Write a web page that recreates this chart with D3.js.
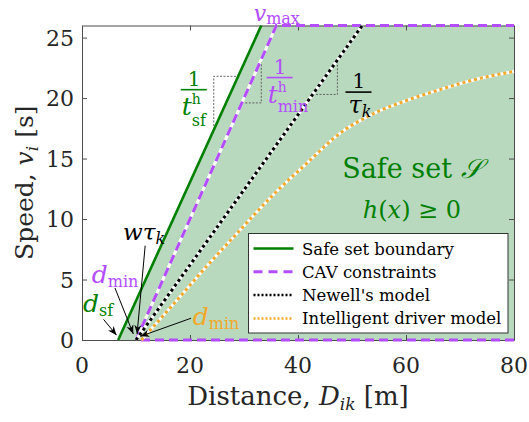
<!DOCTYPE html>
<html>
<head>
<meta charset="utf-8">
<script src="https://cdn.jsdelivr.net/npm/d3@7"></script>
<style>
    body { margin: 0; background: #fff; }
</style>
</head>
<body>
<div id="plot"></div>
<script>
// Tick labels
const distanceTicks = [0, 20, 40, 60, 80];
const speedTicks = [0, 5, 10, 15, 20, 25];

// Series, [distance m, speed m/s]
const safeBoundary = [[6.7, 0], [33.2, 26]];
const safeRegion = [[6.7, 0], [33.2, 26], [80, 26], [80, 0]];
const cavSlope = [[10, 0], [36, 26]];
const cavLimits = [[80, 0], [10, 0], [36, 26], [80, 26]];
const newellModel = [[10, 0], [51.9, 26]];
const idmDistance = [11, 17, 23.1, 29.3, 35.4, 41.6, 47.8, 53.9, 60.1, 66.3, 72.5, 80];
const idmSpeed = [0, 3.0, 6.1, 9.1, 12.0, 14.6, 17.1, 18.7, 19.8, 20.7, 21.5, 22.2];

// Slope helper triangles
const greenTriangle = [[24.4, 17.4], [24.4, 21.8], [28.9, 21.8]];
const purpleTriangle = [[29.6, 19.6], [33.2, 19.6], [33.2, 23.2]];
const blackTriangle = [[42.7, 20.3], [47.3, 20.3], [47.3, 23.2]];

const legendNames = ["Safe set boundary", "CAV constraints", "Newell's model", "Intelligent driver model"];

const green = "#008000", purple = "#b34dff", orange = "#f2a82a", shade = "#b9d9bf";
const serif = "DejaVu Serif, serif";

const width = 529, height = 422;
const margin = { top: 25.5, right: 15, bottom: 82, left: 82 };

const svg = d3.select("#plot")
    .append("svg")
    .attr("width", width)
    .attr("height", height)
    .style("font-family", serif);

const x = d3.scaleLinear().domain([0, 80]).range([margin.left, width - margin.right]);
const y = d3.scaleLinear().domain([0, 26]).range([height - margin.bottom, margin.top]);

const line = d3.line().x(d => x(d[0])).y(d => y(d[1]));

// Safe set shading
svg.append("path")
    .attr("d", line(safeRegion) + "Z")
    .attr("fill", shade);

// Axes box with inward ticks
const axisColor = "#4d4d4d";
function styleAxis(g) {
    g.select(".domain").attr("stroke", axisColor);
    g.selectAll(".tick line").attr("stroke", axisColor);
    g.selectAll(".tick text").remove();
}
svg.append("g").attr("transform", `translate(0,${y(0)})`)
    .call(d3.axisTop(x).tickValues(distanceTicks).tickSize(5).tickSizeOuter(0)).call(styleAxis);
svg.append("g").attr("transform", `translate(0,${y(26)})`)
    .call(d3.axisBottom(x).tickValues(distanceTicks).tickSize(5).tickSizeOuter(0)).call(styleAxis);
svg.append("g").attr("transform", `translate(${x(0)},0)`)
    .call(d3.axisRight(y).tickValues(speedTicks).tickSize(5).tickSizeOuter(0)).call(styleAxis);
svg.append("g").attr("transform", `translate(${x(80)},0)`)
    .call(d3.axisLeft(y).tickValues(speedTicks).tickSize(5).tickSizeOuter(0)).call(styleAxis);

// Tick labels
svg.append("g").selectAll("text")
    .data(distanceTicks).enter().append("text")
    .attr("x", d => x(d)).attr("y", y(0) + 33)
    .attr("text-anchor", "middle").attr("font-size", 22).attr("fill", "#262626")
    .text(d => d);
svg.append("g").selectAll("text")
    .data(speedTicks).enter().append("text")
    .attr("x", x(0) - 8).attr("y", d => y(d) + 8)
    .attr("text-anchor", "end").attr("font-size", 22).attr("fill", "#262626")
    .text(d => d);

// Slope triangles
[greenTriangle, purpleTriangle, blackTriangle].forEach(t => {
    svg.append("path").attr("d", line(t))
        .attr("fill", "none").attr("stroke", "#555")
        .attr("stroke-width", 0.9).attr("stroke-dasharray", "2,1.5");
});

// Lines
svg.append("path").attr("d", line(safeBoundary))
    .attr("fill", "none").attr("stroke", green).attr("stroke-width", 2.6);

svg.append("path").attr("d", line(cavSlope))
    .attr("fill", "none").attr("stroke", "#fff").attr("stroke-width", 3);
svg.append("path").attr("d", line(cavLimits))
    .attr("fill", "none").attr("stroke", purple).attr("stroke-width", 3)
    .attr("stroke-dasharray", "9,5");

svg.append("path").attr("d", line(newellModel))
    .attr("fill", "none").attr("stroke", "#fff").attr("stroke-width", 3);
svg.append("path").attr("d", line(newellModel))
    .attr("fill", "none").attr("stroke", "#000").attr("stroke-width", 3)
    .attr("stroke-dasharray", "3,3");

const idmPoints = idmDistance.map((d, i) => [d, idmSpeed[i]]);
const curve = d3.line().x(d => x(d[0])).y(d => y(d[1])).curve(d3.curveMonotoneX);
svg.append("path").attr("d", curve(idmPoints))
    .attr("fill", "none").attr("stroke", "#fff").attr("stroke-width", 3);
svg.append("path").attr("d", curve(idmPoints))
    .attr("fill", "none").attr("stroke", orange).attr("stroke-width", 3)
    .attr("stroke-dasharray", "3,3");

// Arrow marker
svg.append("defs").append("marker")
    .attr("id", "arrow").attr("viewBox", "0 0 10 10")
    .attr("refX", 10).attr("refY", 5)
    .attr("markerWidth", 9).attr("markerHeight", 9)
    .attr("markerUnits", "userSpaceOnUse")
    .attr("orient", "auto")
    .append("path").attr("d", "M0,1 L10,5 L0,9 L3,5 Z").attr("fill", "#000");

// Annotation arrows [from, to] in data units
const arrows = [
    [[4.0, 1.7], [6.4, 0.4]],
    [[6.1, 4.3], [9.5, 0.5]],
    [[11.7, 7.8], [10.2, 0.5]],
    [[20.2, 1.8], [10.8, 0.3]]
];
arrows.forEach(a => {
    svg.append("line")
        .attr("x1", x(a[0][0])).attr("y1", y(a[0][1]))
        .attr("x2", x(a[1][0])).attr("y2", y(a[1][1]))
        .attr("stroke", "#000").attr("stroke-width", 1)
        .attr("marker-end", "url(#arrow)");
});

// Math-like label helper: parts = [text, italic, size, dy, x]
function mathText(px, py, color, parts, anchor) {
    const t = svg.append("text")
        .attr("x", px).attr("y", py).attr("fill", color)
        .attr("text-anchor", anchor || "start");
    parts.forEach(p => {
        const s = t.append("tspan")
            .attr("font-style", p[1] ? "italic" : "normal")
            .attr("font-size", p[2])
            .attr("dy", p[3] || 0)
            .text(p[0]);
        if (p[4] != null) s.attr("x", p[4]);
    });
    return t;
}

// Labels near the origin
mathText(x(0.2), y(2.3), green, [["d", true, 25], ["sf", false, 16, 4]]);
mathText(x(1.8), y(4.7), purple, [["d", true, 25], ["min", false, 16, 4]]);
mathText(x(7.6), y(8.3), "#000", [["wτ", true, 23], ["k", true, 16, 4]]);
mathText(x(20.5), y(1.25), orange, [["d", true, 25], ["min", false, 16, 4]]);

// v_max on top
mathText(x(31.8), 21, purple, [["v", true, 22], ["max", false, 16, 3]]);

// Fraction labels: numerator and denominator in one text
function fraction(cx, top, color, denomParts) {
    svg.append("line")
        .attr("x1", cx - 13).attr("x2", cx + 13)
        .attr("y1", top + 17).attr("y2", top + 17)
        .attr("stroke", color).attr("stroke-width", 1.6);
    const parts = [["1", false, 20, 0, cx - 6]].concat(denomParts);
    mathText(cx - 6, top + 13, color, parts);
}
fraction(x(20.7), y(22.1), green, [
    ["t", true, 25, 29, x(20.7) - 12], ["h", false, 14, -11], ["sf", false, 16, 22, x(20.7) - 2]
]);
fraction(x(36.6), y(23.1), purple, [
    ["t", true, 25, 29, x(36.6) - 12], ["h", false, 14, -11], ["min", false, 16, 20, x(36.6) - 2]
]);
fraction(x(51.2), y(21.9), "#000", [
    ["τ", true, 24, 24.5, x(51.2) - 10], ["k", true, 16, 4]
]);

// Safe set text
mathText(x(61.1), y(13.4), green, [["Safe set ", false, 27], ["𝒮", true, 27]], "middle");
mathText(x(61.1), y(10.1), green, [["h", true, 24], ["(", false, 24], ["x", true, 24], [") ≥ 0", false, 24]], "middle");

// Legend
const lg = svg.append("g").attr("transform", "translate(248.5,233.5)");
lg.append("rect").attr("width", 259.5).attr("height", 99.5)
    .attr("fill", "#fff").attr("stroke", "#333").attr("stroke-width", 1);
const legendStyles = [
    { color: green, dash: null, w: 2.6 },
    { color: purple, dash: "9,6", w: 3 },
    { color: "#000", dash: "2,2", w: 2.5 },
    { color: orange, dash: "2,2", w: 2.5 }
];
legendNames.forEach((name, i) => {
    const cy = 15 + i * 23.3;
    lg.append("line").attr("x1", 5).attr("x2", 45).attr("y1", cy).attr("y2", cy)
        .attr("stroke", legendStyles[i].color).attr("stroke-width", legendStyles[i].w)
        .attr("stroke-dasharray", legendStyles[i].dash);
    lg.append("text").attr("x", 53.5).attr("y", cy + 6)
        .attr("font-size", 16.5).attr("fill", "#000").text(name);
});

// Axis titles
mathText((x(0) + x(80)) / 2, 405, "#262626",
    [["Distance, ", false, 26], ["D", true, 26], ["ik", true, 17, 5], [" [m]", false, 26, -5]], "middle");
mathText(0, 0, "#262626",
    [["Speed, ", false, 25], ["v", true, 25], ["i", true, 17, 5], [" [s]", false, 25, -5]], "middle")
    .attr("transform", `translate(33,${(y(0) + y(26)) / 2}) rotate(-90)`);
</script>
</body>
</html>
